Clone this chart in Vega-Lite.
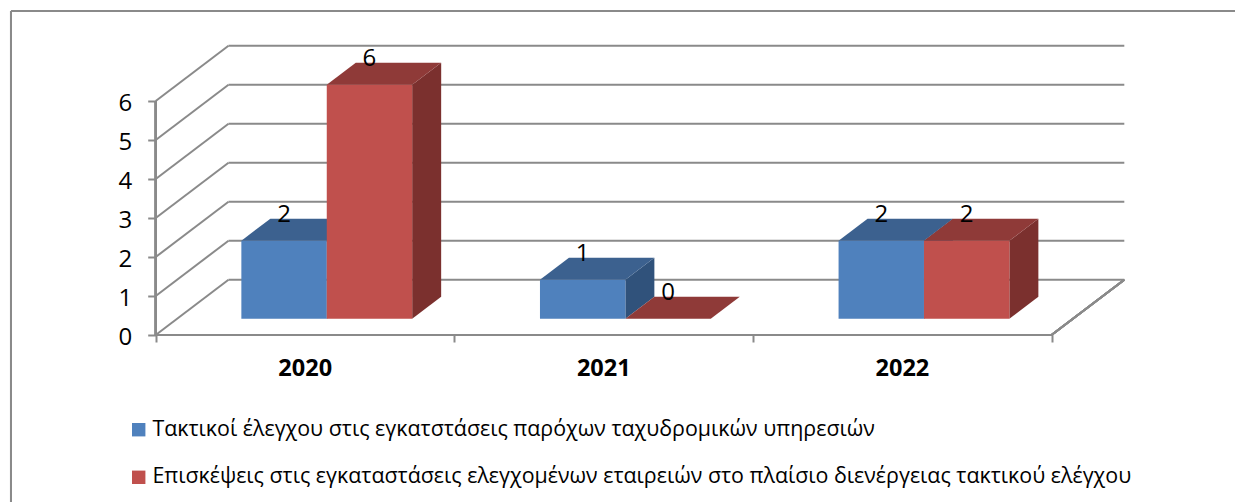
{"$schema":"https://vega.github.io/schema/vega-lite/v6.json","width":1235,"height":502,"autosize":{"type":"fit","contains":"padding"},"padding":0,"background":"white","config":{"view":{"stroke":null},"font":"Open Sans"},
"data":{"values":[
{"year":2020,"series":"Τακτικοί έλεγχου στις εγκατστάσεις παρόχων ταχυδρομικών υπηρεσιών","s":0,"value":2},
{"year":2020,"series":"Επισκέψεις στις εγκαταστάσεις ελεγχομένων εταιρειών στο πλαίσιο διενέργειας τακτικού ελέγχου","s":1,"value":6},
{"year":2021,"series":"Τακτικοί έλεγχου στις εγκατστάσεις παρόχων ταχυδρομικών υπηρεσιών","s":0,"value":1},
{"year":2021,"series":"Επισκέψεις στις εγκαταστάσεις ελεγχομένων εταιρειών στο πλαίσιο διενέργειας τακτικού ελέγχου","s":1,"value":0},
{"year":2022,"series":"Τακτικοί έλεγχου στις εγκατστάσεις παρόχων ταχυδρομικών υπηρεσιών","s":0,"value":2},
{"year":2022,"series":"Επισκέψεις στις εγκαταστάσεις ελεγχομένων εταιρειών στο πλαίσιο διενέργειας τακτικού ελέγχου","s":1,"value":2}]},
"transform":[
{"calculate":"datum.year-2020+0.2869+datum.s*0.286","as":"x0"},
{"calculate":"datum.x0+0.286","as":"x1"},
{"calculate":"datum.x0+0.143","as":"xc"},
{"calculate":"0.418","as":"base"},
{"calculate":"datum.value+0.418","as":"top"},
{"calculate":"datum.top+0.66","as":"lab"}],
"layer":[
{"data":{"values":[{"level":0},{"level":1},{"level":2},{"level":3},{"level":4},{"level":5},{"level":6}]},
 "transform":[{"calculate":"datum.level+1.418","as":"back"}],
 "mark":{"type":"rule","color":"#8A8A8A","strokeWidth":2},
 "encoding":{
  "x":{"datum":0.2438,"type":"quantitative","scale":{"domain":[-0.5214,3.6145],"range":[0,1235],"nice":false,"zero":false},
   "axis":{"title":null,"values":[0,1,2,3],"orient":"bottom","offset":-167,"domain":false,"grid":false,"tickColor":"#8A8A8A","tickWidth":2,"tickSize":8,"labelExpr":"datum.value==0?'2020':datum.value==1?'2021':datum.value==2?'2022':''","labelOffset":149,"labelPadding":14,"labelFontSize":23.5,"labelFontWeight":"bold","labelColor":"#000","labelOverlap":false,"labelBound":false,"labelFlush":false,"labelFont":"Open Sans"}},
  "x2":{"datum":3.2438},
  "y":{"field":"back","type":"quantitative","scale":{"domain":[-4.282,8.59],"range":[502,0],"nice":false,"zero":false},
   "axis":{"title":null,"values":[0,1,2,3,4,5,6],"orient":"left","offset":-155.7,"domain":false,"grid":false,"tickColor":"#8A8A8A","tickWidth":2,"tickSize":8,"labelPadding":16,"labelFontSize":24,"labelOffset":2,"labelColor":"#000","labelOverlap":false,"labelBound":false,"labelFlush":false,"labelFont":"Open Sans"}}
 }},
{"data":{"values":[{"level":0},{"level":1},{"level":2},{"level":3},{"level":4},{"level":5},{"level":6}]},
 "transform":[{"calculate":"datum.level+1.418","as":"back"}],
 "mark":{"type":"rule","color":"#8A8A8A","strokeWidth":2},
 "encoding":{"x":{"datum":0,"type":"quantitative"},"x2":{"datum":0.2438},"y":{"field":"level","type":"quantitative"},"y2":{"field":"back"}}},
{"mark":{"type":"rule","color":"#8A8A8A","strokeWidth":2},"encoding":{"x":{"datum":0,"type":"quantitative"},"x2":{"datum":3},"y":{"datum":0,"type":"quantitative"}}},
{"mark":{"type":"rule","color":"#8A8A8A","strokeWidth":2},"encoding":{"x":{"datum":0,"type":"quantitative"},"y":{"datum":0,"type":"quantitative"},"y2":{"datum":6}}},
{"mark":{"type":"rule","color":"#8A8A8A","strokeWidth":2},"encoding":{"x":{"datum":3,"type":"quantitative"},"x2":{"datum":3.2438},"y":{"datum":0,"type":"quantitative"},"y2":{"datum":1.418}}},
{"mark":{"type":"rule","color":"#8A8A8A","strokeWidth":2},"encoding":{"x":{"datum":-0.4846,"type":"quantitative"},"x2":{"datum":3.6145},"y":{"datum":8.308,"type":"quantitative"}}},
{"mark":{"type":"rule","color":"#8A8A8A","strokeWidth":2},"encoding":{"x":{"datum":-0.4846,"type":"quantitative"},"y":{"datum":8.308,"type":"quantitative"},"y2":{"datum":-4.282}}},
{"transform":[{"calculate":"[0,1]","as":"t"},{"flatten":["t"]},{"calculate":"datum.x1+datum.t*0.0971","as":"sx"},{"calculate":"datum.base+datum.t*0.564","as":"sy"},{"calculate":"datum.top+datum.t*0.564","as":"sy2"},{"calculate":"datum.year+'-'+datum.s","as":"key"}],
 "mark":{"type":"area","orient":"vertical","opacity":1},
 "encoding":{"x":{"field":"sx","type":"quantitative"},"y":{"field":"sy","type":"quantitative"},"y2":{"field":"sy2"},"detail":{"field":"key"},
  "color":{"field":"s","type":"nominal","legend":null,"scale":{"domain":[0,1],"range":["#30527B","#7B302E"]}}}},
{"transform":[{"calculate":"[0,1]","as":"t"},{"flatten":["t"]},{"calculate":"datum.x0+datum.t*0.0971","as":"tx"},{"calculate":"datum.x1+datum.t*0.0971","as":"tx2"},{"calculate":"datum.top+datum.t*0.564","as":"ty"},{"calculate":"datum.year+'-'+datum.s","as":"key"}],
 "mark":{"type":"area","orient":"horizontal","opacity":1},
 "encoding":{"y":{"field":"ty","type":"quantitative"},"x":{"field":"tx","type":"quantitative"},"x2":{"field":"tx2"},"detail":{"field":"key"},
  "color":{"field":"s","type":"nominal","legend":null,"scale":{"domain":[0,1],"range":["#3C618F","#8F3A38"]}}}},
{"mark":{"type":"rect"},
 "encoding":{"x":{"field":"x0","type":"quantitative"},"x2":{"field":"x1"},"y":{"field":"base","type":"quantitative"},"y2":{"field":"top"},
  "color":{"field":"series","type":"nominal","scale":{"domain":["Τακτικοί έλεγχου στις εγκατστάσεις παρόχων ταχυδρομικών υπηρεσιών","Επισκέψεις στις εγκαταστάσεις ελεγχομένων εταιρειών στο πλαίσιο διενέργειας τακτικού ελέγχου"],"range":["#4F81BD","#C0504D"]},
   "legend":{"title":null,"orient":"none","legendX":128,"legendY":419,"padding":0,"direction":"vertical","columns":1,"symbolType":"square","symbolSize":180,"symbolStrokeWidth":0,"symbolOpacity":1,"labelFontSize":21.4,"labelColor":"#000","labelLimit":1100,"labelOffset":3,"rowPadding":24.6,"labelFont":"Open Sans"}}}},
{"mark":{"type":"text","fontSize":24,"color":"#000","align":"center","baseline":"middle","font":"Open Sans"},
 "encoding":{"x":{"field":"xc","type":"quantitative"},"y":{"field":"lab","type":"quantitative"},"text":{"field":"value","type":"quantitative"}}}
],
"resolve":{"scale":{"color":"independent"}}}
